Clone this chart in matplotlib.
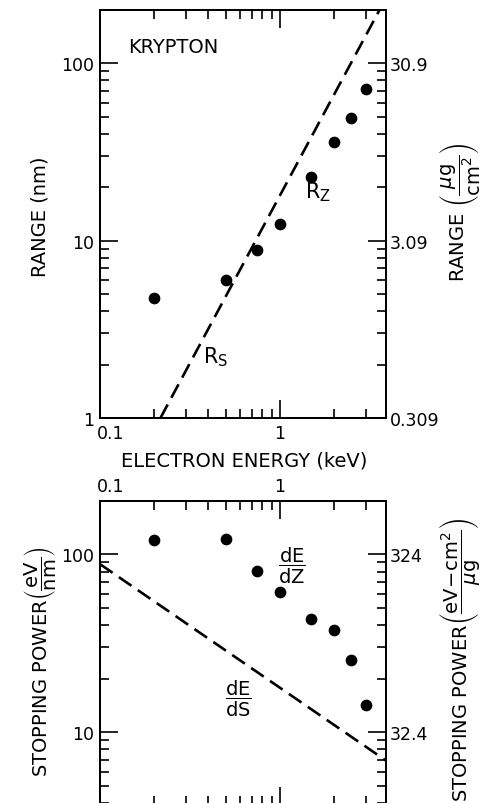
import numpy as np
import matplotlib
matplotlib.use('Agg')
import matplotlib.pyplot as plt
from matplotlib.transforms import ScaledTranslation

# === Data ===
energy = [0.2, 0.5, 0.75, 1.0, 1.5, 2.0, 2.5, 3.0]          # keV
range_z = [4.73, 5.96, 8.85, 12.4, 22.9, 36.1, 48.9, 72.1]  # nm
stop_z = [121, 122, 81, 61, 43.2, 37.5, 25.4, 14.2]          # eV/nm

rs_energy = [0.217, 3.59]     # dashed R_s line end points
rs_range = [1.0, 200.0]
ds_energy = [0.1, 3.9]        # dashed dE/dS line end points
ds_stop = [88.0, 6.93]

range_ticks = [1, 10, 100]
range_labels = ['1', '10', '100']
range_right_labels = ['0.309', '3.09', '30.9']
stop_ticks = [10, 100]
stop_labels = ['10', '100']
stop_right_labels = ['32.4', '324']
e_ticks = [0.1, 1]
e_labels = ['0.1', '1']

plt.rcParams['font.family'] = 'DejaVu Sans'
plt.rcParams['mathtext.fontset'] = 'dejavusans'
plt.rcParams['lines.scale_dashes'] = False
plt.rcParams['axes.linewidth'] = 1.4

FS = 14      # titles / annotations
TFS = 12.5   # tick labels
fig = plt.figure(figsize=(4.81, 8.04), dpi=100)
ax1 = fig.add_axes([0.2079, 0.4789, 0.5946, 0.5075])
ax2 = fig.add_axes([0.2079, -0.003, 0.5946, 0.379])


def style_axes(ax):
    ax.tick_params(which='both', direction='in', top=True, bottom=True,
                   left=True, right=True, width=1.2, labelsize=TFS, pad=4)
    ax.tick_params(which='major', length=13)
    ax.tick_params(which='minor', length=6.5)


def twin_right(ax, ticks, labels):
    axr = ax.twinx()
    axr.set_yscale('log')
    axr.set_ylim(ax.get_ylim())
    axr.set_yticks(ticks, labels=labels)
    axr.tick_params(which='both', direction='in', width=1.2, labelsize=TFS, pad=3)
    axr.tick_params(which='major', length=13)
    axr.tick_params(which='minor', length=6.5)
    ax.tick_params(which='both', right=False)
    return axr


def shift_first_xlabel(ax):
    # the "0.1" label sits just right of the corner in the original
    for lab in ax.get_xticklabels():
        if lab.get_text() == '0.1':
            lab.set_ha('left')
            lab.set_transform(lab.get_transform() +
                              ScaledTranslation(-2 / 72, 0, fig.dpi_scale_trans))


# === Top panel: range ===
ax1.set_xscale('log')
ax1.set_yscale('log')
ax1.set_xlim(0.1, 3.9)
ax1.set_ylim(1, 200)
ax1.plot(rs_energy, rs_range, color='black', lw=1.9, ls=(0, (11, 5.5)))
ax1.scatter(energy, range_z, s=55, color='black', zorder=3)
style_axes(ax1)
ax1.set_xticks(e_ticks, labels=e_labels)
ax1.set_yticks(range_ticks, labels=range_labels)
ax1.tick_params(labeltop=False, labelbottom=True)
shift_first_xlabel(ax1)
twin_right(ax1, range_ticks, range_right_labels)

ax1.text(0.144, 124, 'KRYPTON', fontsize=FS, ha='left', va='center')
ax1.text(1.64, 19.0, r'$\mathregular{R_Z}$', fontsize=FS + 1, ha='center', va='center')
ax1.text(0.44, 2.23, r'$\mathregular{R_S}$', fontsize=FS + 1, ha='center', va='center')

# === Bottom panel: stopping power ===
ax2.set_xscale('log')
ax2.set_yscale('log')
ax2.set_xlim(0.1, 3.9)
ax2.set_ylim(3.88, 200)
ax2.plot(ds_energy, ds_stop, color='black', lw=1.9, ls=(0, (11, 5.5)))
ax2.scatter(energy, stop_z, s=55, color='black', zorder=3)
style_axes(ax2)
ax2.set_xticks(e_ticks, labels=e_labels)
ax2.set_yticks(stop_ticks, labels=stop_labels)
ax2.tick_params(labeltop=True, labelbottom=False)
shift_first_xlabel(ax2)
twin_right(ax2, stop_ticks, stop_right_labels)

ax2.text(1.17, 86.7, r'$\dfrac{\mathrm{dE}}{\mathrm{dZ}}$', fontsize=FS, ha='center', va='center')
ax2.text(0.59, 15.6, r'$\dfrac{\mathrm{dE}}{\mathrm{dS}}$', fontsize=FS, ha='center', va='center')

# === Axis titles ===
fig.text(244.5 / 481, 1 - 461 / 804, 'ELECTRON ENERGY (keV)', fontsize=FS,
         ha='center', va='center')
fig.text(40 / 481, 1 - 217 / 804, 'RANGE (nm)', fontsize=FS, rotation=90,
         ha='center', va='center')
fig.text(460 / 481, 1 - 212 / 804,
         r'RANGE $\left(\dfrac{\mu\mathrm{g}}{\mathrm{cm}^2}\right)$',
         fontsize=FS, rotation=90, ha='center', va='center')
fig.text(40 / 481, 1 - 662 / 804,
         r'STOPPING POWER$\left(\dfrac{\mathrm{eV}}{\mathrm{nm}}\right)$',
         fontsize=FS, rotation=90, ha='center', va='center')
fig.text(460 / 481, 1 - 660 / 804,
         r'STOPPING POWER$\left(\dfrac{\mathrm{eV\!-\!cm}^2}{\mu\mathrm{g}}\right)$',
         fontsize=FS, rotation=90, ha='center', va='center')

fig.savefig('out.png', dpi=100)
